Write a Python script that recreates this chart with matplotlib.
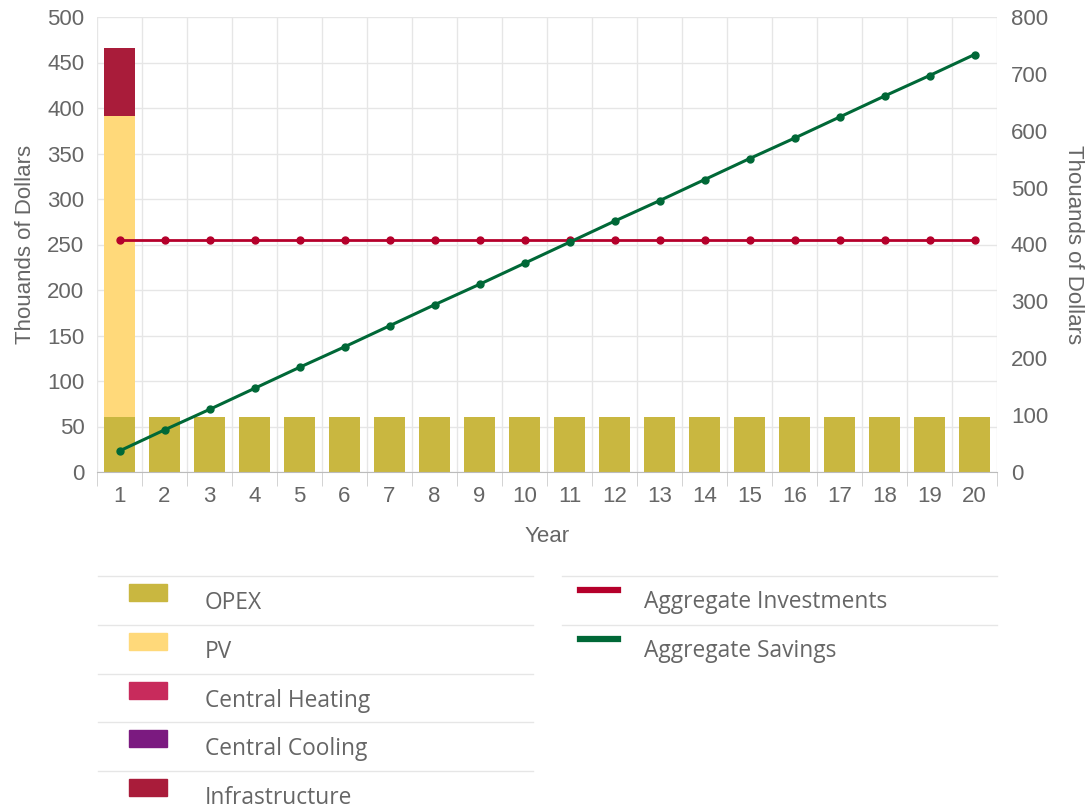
import numpy as np
import matplotlib.pyplot as plt
from matplotlib.patches import Rectangle
from matplotlib.lines import Line2D

# Costs per year (thousands of dollars)
years = list(range(1, 21))
opex = [60] * 20
pv = [331] + [0] * 19
central_heating = [0] * 20
central_cooling = [0] * 20
infrastructure = [75] + [0] * 19

# Aggregates, plotted on the right axis
agg_investments = [408] * 20
agg_savings = [37, 74, 110, 147, 184, 220, 257, 294, 330, 367,
               404, 441, 477, 514, 551, 587, 624, 661, 697, 734]

bar_names = ['OPEX', 'PV', 'Central Heating', 'Central Cooling', 'Infrastructure']
bar_colors = ['#C9B740', '#FFD97A', '#C82B5C', '#7B1A80', '#A91C3A']
line_names = ['Aggregate Investments', 'Aggregate Savings']
line_colors = ['#B5002B', '#006837']

TXT = '#666666'
GRID = '#e6e6e6'

fig = plt.figure(figsize=(10.9, 8.11), dpi=100)
ax = fig.add_axes([97 / 1090, 1 - 472 / 811, 900 / 1090, 455 / 811])
ax2 = ax.twinx()

# stacked bars
bottom = np.zeros(20)
for vals, col in zip([opex, pv, central_heating, central_cooling, infrastructure], bar_colors):
    ax.bar(years, vals, width=0.7, bottom=bottom, color=col, zorder=2)
    bottom += np.array(vals)

ax2.plot(years, agg_investments, color=line_colors[0], lw=2, marker='o', ms=5)
ax2.plot(years, agg_savings, color=line_colors[1], lw=2.2, marker='o', ms=5)

ax.set_xlim(0.5, 20.5)
ax.set_ylim(0, 500)
ax2.set_ylim(0, 800)
ax.set_yticks(range(0, 501, 50))
ax2.set_yticks(range(0, 801, 100))
ax.set_xticks(years)
ax.set_xticks(np.arange(0.5, 21, 1), minor=True)

ax.grid(True, axis='y', color=GRID, lw=1, zorder=0)
ax.grid(True, axis='x', which='minor', color=GRID, lw=1, zorder=0)
ax.set_axisbelow(True)

for a in (ax, ax2):
    for s in a.spines.values():
        s.set_visible(False)
ax.spines['bottom'].set_visible(True)
ax.spines['bottom'].set_color('#bbbbbb')

font = 'Liberation Sans'
ax.tick_params(axis='y', length=0, pad=9, labelsize=16, labelcolor=TXT)
ax2.tick_params(axis='y', length=0, pad=10, labelsize=16, labelcolor=TXT)
ax.tick_params(axis='x', which='major', length=0, pad=10, labelsize=16, labelcolor=TXT)
ax.tick_params(axis='x', which='minor', length=10, color='#cccccc')
for lbl in ax.get_xticklabels() + ax.get_yticklabels() + ax2.get_yticklabels():
    lbl.set_family(font)

ax.set_xlabel('Year', fontsize=16, color=TXT, family=font, labelpad=14)
ax.set_ylabel('Thouands of Dollars', fontsize=16, color=TXT, family=font, labelpad=8)
ax2.set_ylabel('Thouands of Dollars', fontsize=16, color=TXT, family=font,
               rotation=270, labelpad=26)

# custom legend below the plot
W, H = 1090, 811
def fx(x):
    return x / W
def fy(y):
    return 1 - y / H

lfont = 'Open Sans'
for i, (name, col) in enumerate(zip(bar_names, bar_colors)):
    y0 = 576 + i * 48.8
    fig.add_artist(Line2D([fx(98), fx(533)], [fy(y0), fy(y0)], color=GRID, lw=1))
    fig.add_artist(Rectangle((fx(129), fy(y0 + 25)), 38 / W, 17 / H, color=col))
    fig.text(fx(205), fy(y0 + 27), name, fontsize=16.4, color=TXT, family=lfont, va='center')

for i, (name, col) in enumerate(zip(line_names, line_colors)):
    y0 = 576 + i * 48.8
    fig.add_artist(Line2D([fx(562), fx(997)], [fy(y0), fy(y0)], color=GRID, lw=1))
    fig.add_artist(Line2D([fx(580), fx(618)], [fy(y0 + 14), fy(y0 + 14)], color=col, lw=4.5))
    fig.text(fx(644), fy(y0 + 26), name, fontsize=16.4, color=TXT, family=lfont, va='center')

fig.savefig('out.png', dpi=100)
